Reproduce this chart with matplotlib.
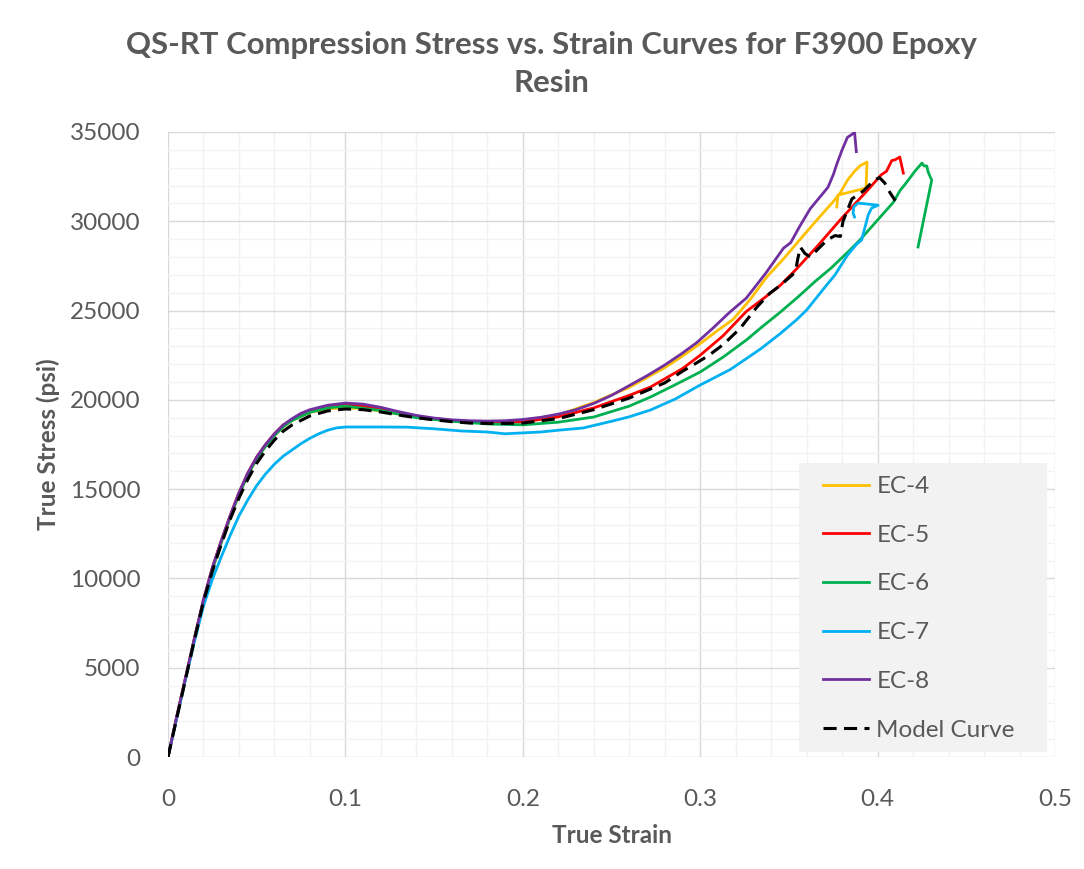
import matplotlib
matplotlib.use("Agg")
import matplotlib.pyplot as plt
from matplotlib.ticker import MultipleLocator
from matplotlib.patches import Rectangle

plt.rcParams['font.family'] = ['Lato', 'DejaVu Sans']

# strain / stress
ec4_strain = [0, 0.005, 0.01, 0.015, 0.02, 0.025, 0.03, 0.035, 0.04, 0.045, 0.05, 0.055, 0.06, 0.065, 0.07,
              0.08, 0.09, 0.1, 0.11, 0.12, 0.13, 0.14, 0.15, 0.16, 0.17, 0.18, 0.19, 0.2, 0.22, 0.24, 0.26,
              0.28, 0.29, 0.3, 0.31, 0.3185, 0.328, 0.3375, 0.347, 0.356, 0.366, 0.375, 0.379, 0.383, 0.387,
              0.39, 0.394, 0.3935, 0.3777, 0.377]
ec4_stress = [0, 2250, 4450, 6650, 8750, 10500, 12000, 13400, 14700, 15800, 16700, 17400, 18000, 18500, 18850,
              19300, 19500, 19560, 19500, 19380, 19200, 19050, 18920, 18830, 18780, 18760, 18780, 18850, 19150, 19850, 20700,
              21800, 22450, 23150, 23900, 24500, 25600, 26880, 27900, 28950, 30100, 31100, 31600, 32300, 32800,
              33100, 33320, 31860, 31470, 30800]

ec5_strain = [0, 0.005, 0.01, 0.015, 0.02, 0.025, 0.03, 0.035, 0.04, 0.045, 0.05, 0.055, 0.06, 0.065, 0.07,
              0.08, 0.09, 0.1, 0.11, 0.12, 0.13, 0.14, 0.15, 0.16, 0.17, 0.18, 0.19, 0.2, 0.22, 0.24, 0.26,
              0.272, 0.29, 0.3, 0.313, 0.326, 0.336, 0.345, 0.354, 0.366, 0.373, 0.38, 0.387, 0.394, 0.398,
              0.402, 0.405, 0.408, 0.41, 0.4125, 0.4145]
ec5_stress = [0, 2300, 4500, 6700, 8800, 10600, 12100, 13500, 14800, 15900, 16800, 17500, 18100, 18600, 18900,
              19350, 19600, 19700, 19650, 19480, 19260, 19080, 18950, 18850, 18790, 18760, 18750, 18760, 19050, 19550, 20250,
              20720, 21750, 22500, 23600, 24950, 25700, 26400, 27300, 28600, 29400, 30200, 30950, 31700, 32150,
              32600, 32800, 33400, 33450, 33600, 32700]

ec6_strain = [0, 0.005, 0.01, 0.015, 0.02, 0.025, 0.03, 0.035, 0.04, 0.045, 0.05, 0.055, 0.06, 0.065, 0.07,
              0.08, 0.09, 0.1, 0.12, 0.14, 0.16, 0.18, 0.2, 0.22, 0.24, 0.26, 0.272, 0.286, 0.3, 0.313, 0.326,
              0.335, 0.345, 0.355, 0.365, 0.374, 0.384, 0.39, 0.4, 0.409, 0.4125, 0.4165, 0.421, 0.425, 0.4262,
              0.4277, 0.4285, 0.4305, 0.4228]
ec6_stress = [0, 2250, 4450, 6650, 8750, 10500, 12000, 13400, 14700, 15800, 16700, 17400, 18000, 18500, 18850,
              19300, 19550, 19650, 19400, 19000, 18800, 18650, 18600, 18750, 19040, 19650, 20160, 20850, 21560, 22400, 23350,
              24100, 24900, 25750, 26650, 27400, 28350, 28950, 30070, 31080, 31700, 32200, 32800, 33260, 33100,
              33100, 32760, 32300, 28560]

ec7_strain = [0, 0.005, 0.01, 0.015, 0.02, 0.025, 0.03, 0.035, 0.04, 0.045, 0.05, 0.055, 0.06, 0.065, 0.07,
              0.075, 0.08, 0.085, 0.09, 0.095, 0.1, 0.11, 0.12, 0.135, 0.15, 0.165, 0.18, 0.19, 0.198, 0.21, 0.22,
              0.234, 0.25, 0.26, 0.272, 0.286, 0.3, 0.317, 0.334, 0.345, 0.3545, 0.36, 0.369, 0.376, 0.383,
              0.388, 0.391, 0.3947, 0.3966, 0.4003, 0.389, 0.3865, 0.3862, 0.387]
ec7_stress = [0, 2200, 4400, 6500, 8450, 9950, 11200, 12400, 13500, 14400, 15200, 15850, 16400, 16850, 17200,
              17550, 17850, 18100, 18300, 18430, 18480, 18480, 18480, 18470, 18380, 18260, 18200, 18100, 18140, 18200, 18300,
              18424, 18800, 19050, 19432, 20050, 20832, 21700, 22850, 23700, 24500, 25030, 26150, 27000, 28100,
              28700, 28950, 30350, 30740, 30900, 31020, 30800, 30460, 30240]

ec8_strain = [0, 0.005, 0.01, 0.015, 0.02, 0.025, 0.03, 0.035, 0.04, 0.045, 0.05, 0.055, 0.06, 0.065, 0.07,
              0.075, 0.08, 0.09, 0.1, 0.11, 0.12, 0.13, 0.14, 0.15, 0.16, 0.17, 0.18, 0.19, 0.2, 0.21, 0.22,
              0.23, 0.24, 0.25, 0.26, 0.27, 0.28, 0.289, 0.298, 0.307, 0.316, 0.326, 0.337, 0.347, 0.351,
              0.356, 0.362, 0.367, 0.372, 0.375, 0.377, 0.38, 0.383, 0.386, 0.387, 0.388]
ec8_stress = [0, 2300, 4500, 6700, 8800, 10600, 12100, 13500, 14800, 15900, 16800, 17500, 18100, 18600, 18950,
              19250, 19450, 19700, 19820, 19760, 19580, 19340, 19130, 18980, 18880, 18830, 18810, 18830, 18900, 19020, 19200,
              19450, 19800, 20250, 20800, 21350, 21950, 22550, 23200, 24000, 24850, 25700, 27100, 28500, 28800,
              29700, 30700, 31300, 31900, 32600, 33200, 34000, 34700, 34900, 35000, 33900]

model_strain = [0, 0.005, 0.01, 0.015, 0.02, 0.025, 0.03, 0.035, 0.04, 0.045, 0.05, 0.055, 0.06, 0.065, 0.07,
                0.08, 0.09, 0.1, 0.11, 0.12, 0.13, 0.14, 0.15, 0.16, 0.17, 0.18, 0.19, 0.2, 0.22, 0.24, 0.26,
                0.28, 0.29, 0.296, 0.305, 0.313, 0.3225, 0.332, 0.339, 0.345, 0.352, 0.354, 0.355, 0.3565, 0.359,
                0.362, 0.366, 0.3715, 0.376, 0.379, 0.3805, 0.3855, 0.392, 0.398, 0.401, 0.404, 0.407, 0.41]
model_stress = [0, 2200, 4400, 6600, 8700, 10400, 11900, 13300, 14500, 15550, 16450, 17150, 17750, 18250, 18600,
                19100, 19380, 19490, 19450, 19320, 19150, 19000, 18880, 18780, 18700, 18680, 18680, 18700, 18950, 19450, 20100,
                20950, 21600, 21950, 22500, 23100, 24000, 25200, 25950, 26400, 27000, 27350, 27900, 28550, 28200,
                28000, 28400, 28950, 29200, 29150, 30000, 31250, 31700, 32300, 32450, 32150, 31600, 31150]

series = [
    ("EC-4", ec4_strain, ec4_stress, "#FFC000"),
    ("EC-5", ec5_strain, ec5_stress, "#FF0000"),
    ("EC-6", ec6_strain, ec6_stress, "#00B050"),
    ("EC-7", ec7_strain, ec7_stress, "#00B0F0"),
    ("EC-8", ec8_strain, ec8_stress, "#7030A0"),
]

text_color = "#595959"
W, H = 1084, 869

fig = plt.figure(figsize=(W / 100, H / 100), dpi=100)
ax = fig.add_axes([168 / W, 1 - 757 / H, (1055 - 168) / W, (757 - 132) / H])

for name, x, y, c in series:
    ax.plot(x, y, color=c, lw=2.0, label=name, solid_joinstyle='round')
ax.plot(model_strain, model_stress, color="black", lw=2.2, linestyle=(0, (4.3, 2.4)), label="Model Curve")

ax.set_xlim(0, 0.5)
ax.set_ylim(0, 35000)
ax.xaxis.set_major_locator(MultipleLocator(0.1))
ax.xaxis.set_minor_locator(MultipleLocator(0.02))
ax.yaxis.set_major_locator(MultipleLocator(5000))
ax.yaxis.set_minor_locator(MultipleLocator(1000))
ax.set_xticks([0, 0.1, 0.2, 0.3, 0.4, 0.5])
ax.set_xticklabels(["0", "0.1", "0.2", "0.3", "0.4", "0.5"])
ax.grid(which='major', color="#D9D9D9", lw=1.0)
ax.grid(which='minor', color="#F2F2F2", lw=1.0)
ax.set_axisbelow(True)
for s in ax.spines.values():
    s.set_visible(False)
ax.tick_params(which='both', length=0, labelsize=17.5, labelcolor=text_color)
ax.tick_params(axis='x', pad=23)
ax.tick_params(axis='y', pad=20)

ax.set_xlabel("True Strain", fontsize=17.5, fontweight='bold', color=text_color, labelpad=10)
ax.set_ylabel("True Stress (psi)", fontsize=17.5, fontweight='bold', color=text_color, labelpad=7)

fig.text(551 / W, 1 - 45 / H, "QS-RT Compression Stress vs. Strain Curves for F3900 Epoxy",
         ha='center', va='center', fontsize=22.4, fontweight='bold', color=text_color)
fig.text(551 / W, 1 - 83 / H, "Resin",
         ha='center', va='center', fontsize=22.4, fontweight='bold', color=text_color)

# legend background box, drawn separately so the entries can sit inset
fig.add_artist(Rectangle((799 / W, 1 - 752 / H), (1047 - 799) / W, (752 - 463) / H,
                         transform=fig.transFigure, facecolor="#F2F2F2", edgecolor="none", zorder=1))
handles, labels = ax.get_legend_handles_labels()
leg = fig.legend(handles, labels, loc='upper left', bbox_to_anchor=(823 / W, 1 - 476 / H),
                 fontsize=17.5, frameon=False, handlelength=1.9, handletextpad=0.3,
                 labelspacing=1.14, borderpad=0, borderaxespad=0)
leg.set_zorder(5)
for t in leg.get_texts():
    t.set_color(text_color)

fig.savefig("out.png", dpi=100)
